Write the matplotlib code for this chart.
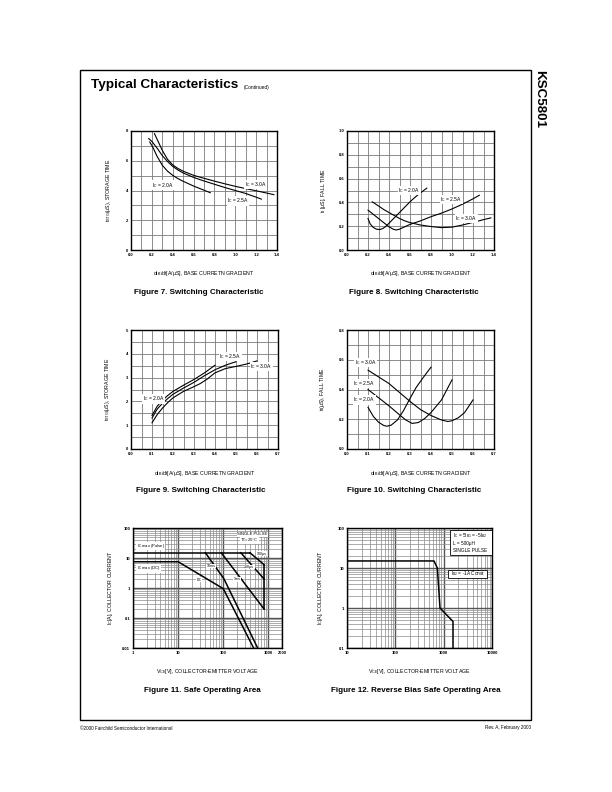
import numpy as np
import matplotlib
matplotlib.use('Agg')
import matplotlib.pyplot as plt
from matplotlib.patches import Rectangle
from matplotlib.ticker import FixedLocator, NullFormatter, LogLocator

plt.rcParams['font.family'] = ['Liberation Sans', 'DejaVu Sans']
plt.rcParams['mathtext.fontset'] = 'custom'
plt.rcParams['mathtext.rm'] = 'Liberation Sans'
plt.rcParams['mathtext.default'] = 'regular'

W, H = 612, 792

#### DATA ####

# Figure 7 - storage time vs dIB/dt
f7_x_20 = [0.18, 0.21, 0.25, 0.30, 0.35, 0.40, 0.45, 0.50, 0.60, 0.70, 0.76]
f7_y_20 = [7.26, 6.90, 6.30, 5.70, 5.30, 5.02, 4.80, 4.62, 4.30, 4.02, 3.85]
f7_x_25 = [0.17, 0.20, 0.25, 0.30, 0.35, 0.40, 0.45, 0.50, 0.60, 0.70, 0.80, 0.90, 1.00, 1.10, 1.20, 1.25]
f7_y_25 = [7.49, 7.30, 6.85, 6.35, 5.95, 5.62, 5.38, 5.18, 4.88, 4.64, 4.42, 4.20, 4.00, 3.80, 3.55, 3.42]
f7_x_30 = [0.225, 0.26, 0.30, 0.35, 0.40, 0.45, 0.50, 0.60, 0.70, 0.80, 0.90, 1.00, 1.10, 1.20, 1.30, 1.37]
f7_y_30 = [7.82, 7.30, 6.70, 6.10, 5.72, 5.48, 5.30, 5.02, 4.82, 4.63, 4.45, 4.28, 4.13, 3.98, 3.83, 3.72]

# Figure 8 - fall time vs dIB/dt
f8_x_20 = [0.20, 0.22, 0.25, 0.28, 0.31, 0.34, 0.37, 0.40, 0.45, 0.50, 0.55, 0.60, 0.65, 0.70, 0.76]
f8_y_20 = [0.265, 0.22, 0.19, 0.175, 0.172, 0.18, 0.198, 0.225, 0.27, 0.315, 0.36, 0.405, 0.445, 0.48, 0.52]
f8_x_25 = [0.20, 0.25, 0.30, 0.35, 0.40, 0.44, 0.47, 0.50, 0.55, 0.60, 0.70, 0.80, 0.90, 1.00, 1.10, 1.20, 1.26]
f8_y_25 = [0.335, 0.30, 0.265, 0.23, 0.195, 0.175, 0.168, 0.175, 0.195, 0.215, 0.245, 0.28, 0.31, 0.345, 0.385, 0.43, 0.46]
f8_x_30 = [0.24, 0.30, 0.35, 0.40, 0.45, 0.50, 0.55, 0.60, 0.70, 0.80, 0.90, 1.00, 1.10, 1.20, 1.30, 1.37]
f8_y_30 = [0.405, 0.37, 0.34, 0.315, 0.29, 0.265, 0.245, 0.23, 0.21, 0.197, 0.188, 0.192, 0.21, 0.232, 0.255, 0.27]

# Figure 9 - storage time vs dIB/dt
f9_x_20 = [0.10, 0.125, 0.15, 0.175, 0.20, 0.25, 0.30, 0.35, 0.40]
f9_y_20 = [1.41, 1.80, 2.05, 2.25, 2.42, 2.68, 2.92, 3.20, 3.52]
f9_x_25 = [0.10, 0.125, 0.15, 0.175, 0.20, 0.25, 0.30, 0.35, 0.40, 0.45, 0.50]
f9_y_25 = [1.30, 1.68, 1.92, 2.12, 2.30, 2.56, 2.80, 3.08, 3.33, 3.52, 3.67]
f9_x_30 = [0.10, 0.125, 0.15, 0.175, 0.20, 0.25, 0.30, 0.33, 0.36, 0.40, 0.45, 0.50, 0.55, 0.60]
f9_y_30 = [1.10, 1.45, 1.72, 1.95, 2.15, 2.42, 2.62, 2.75, 2.92, 3.20, 3.38, 3.47, 3.57, 3.70]

# Figure 10 - fall time vs dIB/dt
f10_x_20 = [0.10, 0.125, 0.15, 0.175, 0.19, 0.21, 0.24, 0.27, 0.30, 0.33, 0.36, 0.40]
f10_y_20 = [0.28, 0.22, 0.18, 0.158, 0.153, 0.16, 0.195, 0.26, 0.34, 0.415, 0.475, 0.55]
f10_x_25 = [0.10, 0.15, 0.20, 0.25, 0.28, 0.31, 0.34, 0.37, 0.40, 0.45, 0.50]
f10_y_25 = [0.40, 0.345, 0.29, 0.23, 0.195, 0.172, 0.178, 0.205, 0.245, 0.33, 0.465]
f10_x_30 = [0.10, 0.15, 0.20, 0.25, 0.30, 0.35, 0.40, 0.45, 0.48, 0.50, 0.53, 0.56, 0.60]
f10_y_30 = [0.53, 0.485, 0.44, 0.38, 0.32, 0.265, 0.225, 0.195, 0.185, 0.19, 0.21, 0.245, 0.33]

# Figure 11 - safe operating area
soa_pulse_v = [1, 389]
soa_pulse_i = [15, 15]
soa_dc_v = [1, 10, 100, 470]
soa_dc_i = [7.5, 7.5, 0.95, 0.01]
soa_10ms_v = [40, 103, 577]
soa_10ms_i = [15, 2.05, 0.01]
soa_1ms_v = [90, 800]
soa_1ms_i = [15, 0.2]
soa_200us_v = [244, 800]
soa_200us_i = [15, 2.0]
soa_100us_v = [389, 800]
soa_100us_i = [15, 6.0]
soa_vmax_v = [800, 800]
soa_vmax_i = [6.0, 0.2]

# Figure 12 - reverse bias SOA
rb_v = [10, 630, 740, 840, 1560, 1560]
rb_i = [15, 15, 10, 1.0, 0.46, 0.1]

sw_x_ticks7 = ['0.0', '0.2', '0.4', '0.6', '0.8', '1.0', '1.2', '1.4']
sw_x_ticks9 = ['0.0', '0.1', '0.2', '0.3', '0.4', '0.5', '0.6', '0.7']

XLAB_SW = 'dI$_B$/dt[A/\u03bcS], BASE CURRETN GRADIENT'
XLAB_VCE = 'V$_{CE}$[V], COLLECTOR-EMITTER VOLTAGE'
YLAB_IC = 'I$_C$[A], COLLECTOR CURRENT'

fig = plt.figure(figsize=(W / 100, H / 100), dpi=100)


def px_rect(x0, y0, x1, y1):
    return [x0 / W, 1 - y1 / H, (x1 - x0) / W, (y1 - y0) / H]


def style_axes(ax, ylabel, xlabel, ylab_dx, rect):
    for s in ax.spines.values():
        s.set_linewidth(1.0)
        s.set_zorder(5)
    ax.tick_params(which='both', length=0, labelsize=3.0, pad=2)
    for lab in ax.get_xticklabels() + ax.get_yticklabels():
        lab.set_fontweight('bold')
    w = rect[2] - rect[0]
    h = rect[3] - rect[1]
    ax.set_ylabel(ylabel, fontsize=3.8)
    ax.yaxis.set_label_coords(-ylab_dx / w, 0.5)
    ax.set_xlabel(xlabel, fontsize=3.8)
    ax.xaxis.set_label_coords(0.5, -19.5 / h)


def lin_axes(rect, xmax, ymax, xgrid, ygrid, xlabels, ylabels, ylabel, ylab_dx):
    ax = fig.add_axes(px_rect(*rect))
    ax.set_xlim(0, xmax)
    ax.set_ylim(0, ymax)
    xt = np.linspace(0, xmax, len(xlabels))
    yt = np.linspace(0, ymax, len(ylabels))
    ax.set_xticks(xt)
    ax.set_xticklabels(xlabels)
    ax.set_yticks(yt)
    ax.set_yticklabels(ylabels)
    ax.xaxis.set_minor_locator(FixedLocator(np.arange(0, xmax + 1e-9, xgrid)))
    ax.yaxis.set_minor_locator(FixedLocator(np.arange(0, ymax + 1e-9, ygrid)))
    ax.grid(which='both', color='#7a7a7a', lw=0.6)
    ax.set_axisbelow(True)
    style_axes(ax, ylabel, XLAB_SW, ylab_dx, rect)
    return ax


def ic_label(ax, x, y, val):
    ax.text(x, y, 'I$_C$ = ' + val, fontsize=3.6, ha='left', va='center', zorder=6,
            bbox=dict(fc='white', ec='none', pad=0.2))


def caption(xc, y, s):
    fig.text(xc / W, 1 - y / H, s, fontsize=5.8, fontweight='bold', ha='center', va='center')


LW = 0.8

# ---- Figure 7 ----
r7 = (131, 131, 277, 250)
ax7 = lin_axes(r7, 1.4, 8, 0.1, 1, sw_x_ticks7, ['0', '2', '4', '6', '8'],
               't$_{STG}$(\u03bcS), STORAGE TIME', 18)
ax7.plot(f7_x_20, f7_y_20, color='black', lw=LW)
ax7.plot(f7_x_25, f7_y_25, color='black', lw=LW)
ax7.plot(f7_x_30, f7_y_30, color='black', lw=LW)
ic_label(ax7, 0.20, 4.36, '2.0A')
ic_label(ax7, 1.09, 4.40, '3.0A')
ic_label(ax7, 0.92, 3.30, '2.5A')
caption(199, 292, 'Figure 7. Switching Characteristic')

# ---- Figure 8 ----
r8 = (347, 131, 494, 250)
ax8 = lin_axes(r8, 1.4, 1.0, 0.1, 0.1, sw_x_ticks7, ['0.0', '0.2', '0.4', '0.6', '0.8', '1.0'],
               't$_f$ [\u03bcS], FALL TIME', 19)
ax8.plot(f8_x_20, f8_y_20, color='black', lw=LW)
ax8.plot(f8_x_25, f8_y_25, color='black', lw=LW)
ax8.plot(f8_x_30, f8_y_30, color='black', lw=LW)
ic_label(ax8, 0.49, 0.50, '2.0A')
ic_label(ax8, 0.89, 0.425, '2.5A')
ic_label(ax8, 1.03, 0.265, '3.0A')
caption(414, 292, 'Figure 8. Switching Characteristic')

# ---- Figure 9 ----
r9 = (131, 330, 278, 449)
ax9 = lin_axes(r9, 0.7, 5, 0.05, 0.5, sw_x_ticks9, ['0', '1', '2', '3', '4', '5'],
               't$_{STG}$(\u03bcS), STORAGE TIME', 19)
ax9.plot(f9_x_20, f9_y_20, color='black', lw=LW)
ax9.plot(f9_x_25, f9_y_25, color='black', lw=LW)
ax9.plot(f9_x_30, f9_y_30, color='black', lw=LW)
ic_label(ax9, 0.056, 2.10, '2.0A')
ic_label(ax9, 0.42, 3.88, '2.5A')
ic_label(ax9, 0.568, 3.46, '3.0A')
caption(201, 491, 'Figure 9. Switching Characteristic')

# ---- Figure 10 ----
r10 = (347, 330, 494, 449)
ax10 = lin_axes(r10, 0.7, 0.8, 0.05, 0.1, sw_x_ticks9, ['0.0', '0.2', '0.4', '0.6', '0.8'],
                't$_f$(\u03bcS), FALL TIME', 20)
ax10.plot(f10_x_20, f10_y_20, color='black', lw=LW)
ax10.plot(f10_x_25, f10_y_25, color='black', lw=LW)
ax10.plot(f10_x_30, f10_y_30, color='black', lw=LW)
ic_label(ax10, 0.037, 0.58, '3.0A')
ic_label(ax10, 0.03, 0.44, '2.5A')
ic_label(ax10, 0.03, 0.33, '2.0A')
caption(414, 491, 'Figure 10. Switching Characteristic')


def log_axes(rect, xlim, ylim, xticks, xlabels, yticks, ylabels, ylab_dx):
    ax = fig.add_axes(px_rect(*rect))
    ax.set_xscale('log')
    ax.set_yscale('log')
    ax.set_xlim(*xlim)
    ax.set_ylim(*ylim)
    ax.xaxis.set_major_locator(FixedLocator(xticks))
    ax.xaxis.set_ticklabels(xlabels)
    ax.yaxis.set_major_locator(FixedLocator(yticks))
    ax.yaxis.set_ticklabels(ylabels)
    ax.xaxis.set_minor_locator(LogLocator(base=10, subs=range(2, 10)))
    ax.yaxis.set_minor_locator(LogLocator(base=10, subs=range(2, 10)))
    ax.xaxis.set_minor_formatter(NullFormatter())
    ax.yaxis.set_minor_formatter(NullFormatter())
    ax.grid(which='minor', color='#8a8a8a', lw=0.5)
    ax.grid(which='major', color='#555555', lw=1.0)
    ax.set_axisbelow(True)
    style_axes(ax, YLAB_IC, XLAB_VCE, ylab_dx, rect)
    return ax


box = dict(fc='white', ec='none', pad=0.3)

# ---- Figure 11 ----
r11 = (133, 528, 282, 648)
ax11 = log_axes(r11, (1, 2000), (0.01, 100), [1, 10, 100, 1000, 2000],
                ['1', '10', '100', '1000', '2000'], [0.01, 0.1, 1, 10, 100],
                ['0.01', '0.1', '1', '10', '100'], 18)
LW2 = 1.1
for v, i in [(soa_pulse_v, soa_pulse_i), (soa_dc_v, soa_dc_i), (soa_10ms_v, soa_10ms_i),
             (soa_1ms_v, soa_1ms_i), (soa_200us_v, soa_200us_i), (soa_100us_v, soa_100us_i),
             (soa_vmax_v, soa_vmax_i)]:
    ax11.plot(v, i, color='black', lw=LW2, zorder=4)
ax11.text(1.2, 25, 'I$_C$ max (Pulse)', fontsize=3.0, va='center', bbox=box, zorder=6)
ax11.text(1.2, 4.6, 'I$_C$ max (DC)', fontsize=3.0, va='center', bbox=box, zorder=6)
ax11.text(206, 62, 'SINGLE PULSE', fontsize=3.0, va='center', bbox=box, zorder=6)
ax11.text(237, 39, 'T$_C$=25\u00b0C', fontsize=3.0, va='center', bbox=box, zorder=6)
ax11.text(560, 14, '100\u03bcs', fontsize=2.6, va='center', bbox=box, zorder=6)
ax11.text(290, 5.0, '200\u03bcs', fontsize=2.6, va='center', bbox=box, zorder=6)
ax11.text(167, 1.94, '1ms', fontsize=2.6, va='center', bbox=box, zorder=6)
ax11.text(42, 5.4, '10ms', fontsize=2.6, va='center', bbox=box, zorder=6)
ax11.text(26, 1.9, 'DC', fontsize=2.6, va='center', bbox=box, zorder=6)
caption(202, 690, 'Figure 11. Safe Operating Area')

# ---- Figure 12 ----
r12 = (347, 528, 492, 648)
ax12 = log_axes(r12, (10, 10000), (0.1, 100), [10, 100, 1000, 10000],
                ['10', '100', '1000', '10000'], [0.1, 1, 10, 100],
                ['0.1', '1', '10', '100'], 22)
ax12.plot(rb_v, rb_i, color='black', lw=LW2, zorder=4)
ax12.add_patch(Rectangle((0.708, 0.778), 0.292, 0.202, transform=ax12.transAxes,
                         fc='white', ec='black', lw=0.6, zorder=6))
ax12.text(0.73, 0.935, 'I$_C$ = 5I$_{B1}$ = -5I$_{B2}$', fontsize=3.4, transform=ax12.transAxes,
          va='center', zorder=7)
ax12.text(0.73, 0.875, 'L = 500\u03bcH', fontsize=3.4, transform=ax12.transAxes, va='center', zorder=7)
ax12.text(0.73, 0.815, 'SINGLE PULSE', fontsize=3.4, transform=ax12.transAxes, va='center', zorder=7)
ax12.add_patch(Rectangle((0.695, 0.585), 0.27, 0.065, transform=ax12.transAxes,
                         fc='white', ec='black', lw=0.6, zorder=6))
ax12.text(0.72, 0.618, 'I$_{B2}$ = -1A Const', fontsize=3.4, transform=ax12.transAxes,
          va='center', zorder=7)
caption(416, 690, 'Figure 12. Reverse Bias Safe Operating Area')

#### PAGE FRAME ####
fig.patches.append(Rectangle((80 / W, 1 - 720 / H), (531 - 80) / W, (720 - 70) / H,
                             transform=fig.transFigure, fill=False, ec='black', lw=1.0))
fig.text(91 / W, 1 - 85 / H, 'Typical Characteristics', fontsize=9.7, fontweight='bold',
         ha='left', va='center')
fig.text(244 / W, 1 - 87 / H, '(Continued)', fontsize=3.5, ha='left', va='center')
fig.text(539 / W, 1 - 70 / H, 'KSC5801', fontsize=9.6, fontweight='bold', rotation=-90,
         ha='center', va='top')
fig.text(80 / W, 1 - 728 / H, '\u00a92000 Fairchild Semiconductor International', fontsize=3.3,
         ha='left', va='center')
fig.text(531 / W, 1 - 728 / H, 'Rev. A, February 2000', fontsize=3.3, ha='right', va='center')

fig.savefig('out.png', dpi=100)
